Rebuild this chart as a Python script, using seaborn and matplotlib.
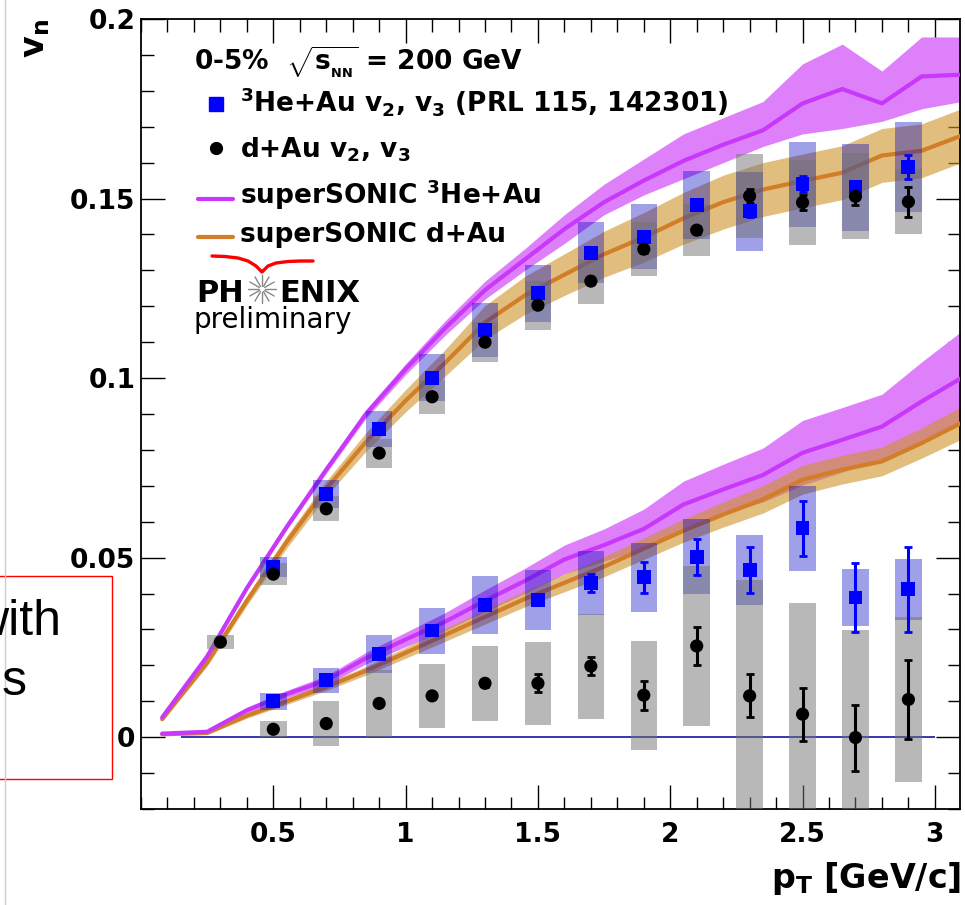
import numpy as np
import pandas as pd
import matplotlib
matplotlib.use("Agg")
import matplotlib.pyplot as plt
import seaborn as sns
from matplotlib.lines import Line2D
from matplotlib.patches import Rectangle
from matplotlib.ticker import MultipleLocator, FixedLocator, FixedFormatter

# ---------------- data ----------------
theory_pt = [0.08, 0.25, 0.40, 0.55, 0.70, 0.85, 1.00, 1.15, 1.30, 1.45, 1.60,
             1.75, 1.90, 2.05, 2.20, 2.35, 2.50, 2.65, 2.80, 2.95, 3.10]
sonic_he_v2 = [0.0055, 0.0225, 0.0415, 0.0585, 0.0745, 0.0900, 0.1025, 0.1140, 0.1245, 0.1330, 0.1415,
               0.1490, 0.1550, 0.1605, 0.1650, 0.1690, 0.1765, 0.1805, 0.1765, 0.1840, 0.1845]
sonic_he_v2_err_hi = [0.0004, 0.0005, 0.0006, 0.0008, 0.0010, 0.0012, 0.0015, 0.0020, 0.0025, 0.0030, 0.0040,
                      0.0050, 0.0060, 0.0075, 0.0075, 0.0080, 0.0110, 0.0125, 0.0090, 0.0110, 0.0105]
sonic_he_v2_err_lo = [0.0004, 0.0005, 0.0006, 0.0008, 0.0010, 0.0012, 0.0015, 0.0020, 0.0025, 0.0030, 0.0040,
                      0.0035, 0.0040, 0.0050, 0.0050, 0.0045, 0.0085, 0.0110, 0.0050, 0.0090, 0.0075]
sonic_d_v2 = [0.0050, 0.0208, 0.0380, 0.0543, 0.0692, 0.0822, 0.0937, 0.1043, 0.1155, 0.1230, 0.1288,
              0.1345, 0.1392, 0.1445, 0.1490, 0.1525, 0.1549, 0.1572, 0.1620, 0.1633, 0.1675]
sonic_d_v2_err = [0.0005, 0.0010, 0.0013, 0.0017, 0.0021, 0.0026, 0.0031, 0.0037, 0.0047, 0.0053, 0.0058,
                  0.0064, 0.0069, 0.0072, 0.0075, 0.0075, 0.0075, 0.0075, 0.0075, 0.0075, 0.0075]
sonic_he_v3 = [0.0010, 0.0015, 0.0075, 0.0120, 0.0158, 0.0220, 0.0272, 0.0322, 0.0380, 0.0435, 0.0495,
               0.0535, 0.0580, 0.0648, 0.0690, 0.0730, 0.0792, 0.0828, 0.0865, 0.0935, 0.1000]
sonic_he_v3_err = [0.0004, 0.0005, 0.0008, 0.0010, 0.0013, 0.0016, 0.0020, 0.0025, 0.0030, 0.0035, 0.0040,
                   0.0045, 0.0055, 0.0065, 0.0070, 0.0075, 0.0090, 0.0090, 0.0090, 0.0110, 0.0130]
sonic_d_v3 = [0.0008, 0.0012, 0.0060, 0.0100, 0.0140, 0.0185, 0.0235, 0.0285, 0.0335, 0.0385, 0.0430,
              0.0475, 0.0525, 0.0575, 0.0620, 0.0662, 0.0717, 0.0745, 0.0768, 0.0819, 0.0875]
sonic_d_v3_err = [0.0004, 0.0005, 0.0007, 0.0009, 0.0010, 0.0012, 0.0015, 0.0018, 0.0020, 0.0022, 0.0025,
                  0.0028, 0.0030, 0.0032, 0.0035, 0.0038, 0.0040, 0.0040, 0.0040, 0.0042, 0.0045]

he_pt = [0.5, 0.7, 0.9, 1.1, 1.3, 1.5, 1.7, 1.9, 2.1, 2.3, 2.5, 2.7, 2.9]
he_v2 = [0.0473, 0.0677, 0.0858, 0.1001, 0.1135, 0.1236, 0.1349, 0.1394, 0.1481, 0.1465, 0.1540, 0.1531, 0.1587]
he_v2_stat = [0.0004, 0.0004, 0.0005, 0.0005, 0.0006, 0.0007, 0.0008, 0.0010, 0.0012, 0.0015, 0.0023, 0.0018, 0.0033]
he_v2_sys = [0.0028, 0.0040, 0.0050, 0.0065, 0.0075, 0.0080, 0.0085, 0.0090, 0.0095, 0.0110, 0.0118, 0.0120, 0.0125]
he_v3 = [0.0100, 0.0159, 0.0231, 0.0297, 0.0368, 0.0382, 0.0429, 0.0445, 0.0503, 0.0466, 0.0582, 0.0389, 0.0412]
he_v3_stat = [0.0005, 0.0006, 0.0008, 0.0010, 0.0012, 0.0015, 0.0025, 0.0043, 0.0050, 0.0065, 0.0077, 0.0096, 0.0118]
he_v3_sys = [0.0023, 0.0035, 0.0053, 0.0064, 0.0080, 0.0083, 0.0090, 0.0095, 0.0104, 0.0098, 0.0118, 0.0080, 0.0085]

d_v2_pt = [0.3, 0.5, 0.7, 0.9, 1.1, 1.3, 1.5, 1.7, 1.9, 2.1, 2.3, 2.5, 2.7, 2.9]
d_v2 = [0.0265, 0.0454, 0.0636, 0.0791, 0.0948, 0.1100, 0.1203, 0.1270, 0.1359, 0.1412, 0.1507, 0.1489, 0.1506, 0.1491]
d_v2_stat = [0.0003, 0.0003, 0.0004, 0.0004, 0.0005, 0.0006, 0.0007, 0.0008, 0.0010, 0.0012, 0.0020, 0.0020, 0.0025, 0.0042]
d_v2_sys = [0.0019, 0.0030, 0.0035, 0.0040, 0.0048, 0.0055, 0.0068, 0.0063, 0.0075, 0.0072, 0.0118, 0.0118, 0.0120, 0.0090]
d_v3_pt = [0.5, 0.7, 0.9, 1.1, 1.3, 1.5, 1.7, 1.9, 2.1, 2.3, 2.5, 2.7, 2.9]
d_v3 = [0.0022, 0.0038, 0.0094, 0.0115, 0.0150, 0.0150, 0.0198, 0.0117, 0.0254, 0.0115, 0.0064, -0.0001, 0.0105]
d_v3_stat = [0.0004, 0.0005, 0.0006, 0.0008, 0.0010, 0.0025, 0.0025, 0.0040, 0.0052, 0.0060, 0.0074, 0.0092, 0.0110]
d_v3_sys = [0.0022, 0.0063, 0.0094, 0.0090, 0.0104, 0.0116, 0.0146, 0.0152, 0.0222, 0.0323, 0.0311, 0.0299, 0.0230]

x_ticks = [0.5, 1.0, 1.5, 2.0, 2.5, 3.0]
x_tick_labels = ["0.5", "1", "1.5", "2", "2.5", "3"]
y_ticks = [0.0, 0.05, 0.10, 0.15, 0.20]
y_tick_labels = ["0", "0.05", "0.1", "0.15", "0.2"]

# ---------------- style ----------------
sns.set_theme(style="ticks")
plt.rcParams["font.family"] = ["DejaVu Sans"]
plt.rcParams["text.color"] = "black"
plt.rcParams["axes.labelcolor"] = "black"
plt.rcParams["xtick.color"] = "black"
plt.rcParams["ytick.color"] = "black"
plt.rcParams["mathtext.fontset"] = "custom"
plt.rcParams["mathtext.rm"] = "DejaVu Sans:bold"
plt.rcParams["mathtext.it"] = "DejaVu Sans:bold"
plt.rcParams["mathtext.bf"] = "DejaVu Sans:bold"
plt.rcParams["mathtext.sf"] = "DejaVu Sans:bold"

W, H = 965, 905
fig = plt.figure(figsize=(W / 100, H / 100), dpi=100)
fig.patch.set_facecolor("white")


def fx(px):
    return px / W


def fy(py):
    return 1 - py / H


ax = fig.add_axes([fx(141), fy(809), (960 - 141) / W, (809 - 19) / H])
ax.set_facecolor("white")

MAG_LINE = "#C838FA"
MAG_BAND = "#DE80FA"
ORA_LINE = "#D27D28"
ORA_BAND = "#CD9326"

th = pd.DataFrame({"pt": theory_pt,
                   "he_v2": sonic_he_v2, "he_v2_hi": sonic_he_v2_err_hi, "he_v2_lo": sonic_he_v2_err_lo,
                   "d_v2": sonic_d_v2, "d_v2_err": sonic_d_v2_err,
                   "he_v3": sonic_he_v3, "he_v3_err": sonic_he_v3_err,
                   "d_v3": sonic_d_v3, "d_v3_err": sonic_d_v3_err})

# bands
ax.fill_between(th["pt"], th["he_v2"] - th["he_v2_lo"], th["he_v2"] + th["he_v2_hi"],
                color=MAG_BAND, lw=0, zorder=1)
ax.fill_between(th["pt"], th["he_v3"] - th["he_v3_err"], th["he_v3"] + th["he_v3_err"],
                color=MAG_BAND, lw=0, zorder=1)
for key in ["d_v2", "d_v3"]:
    ax.fill_between(th["pt"], th[key] - th[key + "_err"], th[key] + th[key + "_err"],
                    color=ORA_BAND, alpha=0.6, lw=0, zorder=2)

# lines
for key in ["d_v2", "d_v3"]:
    sns.lineplot(data=th, x="pt", y=key, ax=ax, color=ORA_LINE, lw=3, zorder=3)
for key in ["he_v2", "he_v3"]:
    sns.lineplot(data=th, x="pt", y=key, ax=ax, color=MAG_LINE, lw=3, zorder=3)

# zero line
ax.hlines(0.0, 0.15, 3.0, color="#2828AA", lw=1.3, zorder=3.5)

# systematic boxes
BOX_W = 0.1
ax.bar(he_pt, 2 * np.array(he_v2_sys), bottom=np.array(he_v2) - np.array(he_v2_sys), width=BOX_W,
       color=(0.02, 0.02, 0.78), alpha=0.38, lw=0, zorder=4)
ax.bar(he_pt, 2 * np.array(he_v3_sys), bottom=np.array(he_v3) - np.array(he_v3_sys), width=BOX_W,
       color=(0.02, 0.02, 0.78), alpha=0.38, lw=0, zorder=4)
ax.bar(d_v2_pt, 2 * np.array(d_v2_sys), bottom=np.array(d_v2) - np.array(d_v2_sys), width=BOX_W,
       color=(0.45, 0.45, 0.45), alpha=0.5, lw=0, zorder=4)
ax.bar(d_v3_pt, 2 * np.array(d_v3_sys), bottom=np.array(d_v3) - np.array(d_v3_sys), width=BOX_W,
       color=(0.45, 0.45, 0.45), alpha=0.5, lw=0, zorder=4)

# stat errors
ax.errorbar(he_pt, he_v2, yerr=he_v2_stat, fmt="none", ecolor="blue", elinewidth=2.2, capsize=3, capthick=2, zorder=5)
ax.errorbar(he_pt, he_v3, yerr=he_v3_stat, fmt="none", ecolor="blue", elinewidth=2.2, capsize=3, capthick=2, zorder=5)
ax.errorbar(d_v2_pt, d_v2, yerr=d_v2_stat, fmt="none", ecolor="black", elinewidth=2.2, capsize=3, capthick=2, zorder=5)
ax.errorbar(d_v3_pt, d_v3, yerr=d_v3_stat, fmt="none", ecolor="black", elinewidth=2.2, capsize=3, capthick=2, zorder=5)

# markers
sns.scatterplot(x=he_pt, y=he_v2, ax=ax, marker="s", s=100, color="blue", edgecolor="none", zorder=6)
sns.scatterplot(x=he_pt, y=he_v3, ax=ax, marker="s", s=100, color="blue", edgecolor="none", zorder=6)
sns.scatterplot(x=d_v2_pt, y=d_v2, ax=ax, marker="o", s=90, color="black", edgecolor="none", zorder=6)
sns.scatterplot(x=d_v3_pt, y=d_v3, ax=ax, marker="o", s=90, color="black", edgecolor="none", zorder=6)

# axes
ax.set_xlim(0.0, 3.095)
ax.set_ylim(-0.02, 0.2)
ax.set_xlabel("")
ax.set_ylabel("")
ax.xaxis.set_major_locator(FixedLocator(x_ticks))
ax.xaxis.set_major_formatter(FixedFormatter(x_tick_labels))
ax.xaxis.set_minor_locator(MultipleLocator(0.1))
ax.yaxis.set_major_locator(FixedLocator(y_ticks))
ax.yaxis.set_major_formatter(FixedFormatter(y_tick_labels))
ax.yaxis.set_minor_locator(MultipleLocator(0.01))
ax.tick_params(which="both", direction="in", top=True, right=True, color="black", width=1.0)
ax.tick_params(which="major", length=17)
ax.tick_params(which="minor", length=9)
ax.tick_params(axis="x", which="major", pad=9)
ax.tick_params(axis="y", which="major", pad=4)
for lab in ax.get_xticklabels() + ax.get_yticklabels():
    lab.set_fontsize(19)
    lab.set_fontweight("bold")
    lab.set_color("black")
for sp in ax.spines.values():
    sp.set_visible(True)
    sp.set_color("black")
    sp.set_linewidth(1.3)

# axis titles
fig.text(fx(961), fy(888), "p$_{T}$ [GeV/c]", ha="right", va="baseline", fontsize=24,
         fontweight="bold", color="black")
fig.text(fx(36), fy(19), "v$_{n}$", rotation=90, ha="center", va="top", fontsize=24,
         fontweight="bold", color="black")

# legend (manual, ROOT style)
fs_leg = 19
fig.text(fx(194), fy(70), r"0-5%  $\sqrt{s_{_{NN}}}$ = 200 GeV", ha="left", va="baseline",
         fontsize=fs_leg, fontweight="bold", color="black")
fig.add_artist(Line2D([fx(216)], [fy(104)], marker="s", ms=9.5, color="blue", ls="none"))
fig.text(fx(240), fy(112), "$^{3}$He+Au v$_{2}$, v$_{3}$ (PRL 115, 142301)", ha="left", va="baseline",
         fontsize=fs_leg, fontweight="bold", color="black")
fig.add_artist(Line2D([fx(216)], [fy(148)], marker="o", ms=8.5, color="black", ls="none"))
fig.text(fx(240), fy(157), "d+Au v$_{2}$, v$_{3}$", ha="left", va="baseline",
         fontsize=fs_leg, fontweight="bold", color="black")
fig.add_artist(Line2D([fx(198), fx(233)], [fy(199), fy(199)], color=MAG_LINE, lw=3))
fig.text(fx(240), fy(204), "superSONIC $^{3}$He+Au", ha="left", va="baseline",
         fontsize=fs_leg, fontweight="bold", color="black")
fig.add_artist(Line2D([fx(198), fx(233)], [fy(237), fy(237)], color=ORA_LINE, lw=3))
fig.text(fx(240), fy(242), "superSONIC d+Au", ha="left", va="baseline",
         fontsize=fs_leg, fontweight="bold", color="black")

# PHENIX logo
arc_x = [212, 225, 238, 248, 256, 262, 268, 276, 288, 300, 313]
arc_y = [256, 256.5, 258, 261, 266, 272, 266, 263, 261.5, 261, 261]
fig.add_artist(Line2D([fx(v) for v in arc_x], [fy(v) for v in arc_y], color="red", lw=2.4,
                      solid_joinstyle="round"))
fig.text(fx(196), fy(302), "PH", ha="left", va="baseline", fontsize=22, fontweight="bold", color="black")
fig.text(fx(279), fy(302), "ENIX", ha="left", va="baseline", fontsize=22, fontweight="bold", color="black")
cx, cy, r = 262, 289, 14
for k in range(12):
    a = np.pi * k / 6
    fig.add_artist(Line2D([fx(cx + 3 * np.cos(a)), fx(cx + r * np.cos(a))],
                          [fy(cy + 3 * np.sin(a)), fy(cy + r * np.sin(a))], color="#888888", lw=1.0))
fig.text(fx(194), fy(328), "preliminary", ha="left", va="baseline", fontsize=20,
         fontweight="normal", color="black")

# slide overlay pieces
fig.add_artist(Line2D([fx(5), fx(5)], [0, 1], color="#cccccc", lw=1))
fig.add_artist(Rectangle((fx(-2), fy(779)), fx(113.5), (779 - 576) / H, transform=fig.transFigure,
                         fill=False, edgecolor="red", lw=1))
fig.text(fx(61), fy(635), "with", ha="right", va="baseline", fontsize=36, family="Liberation Sans",
         color="black")
fig.text(fx(27), fy(695), "s", ha="right", va="baseline", fontsize=36, family="Liberation Sans",
         color="black")

fig.savefig("out.png", dpi=100, facecolor="white")
